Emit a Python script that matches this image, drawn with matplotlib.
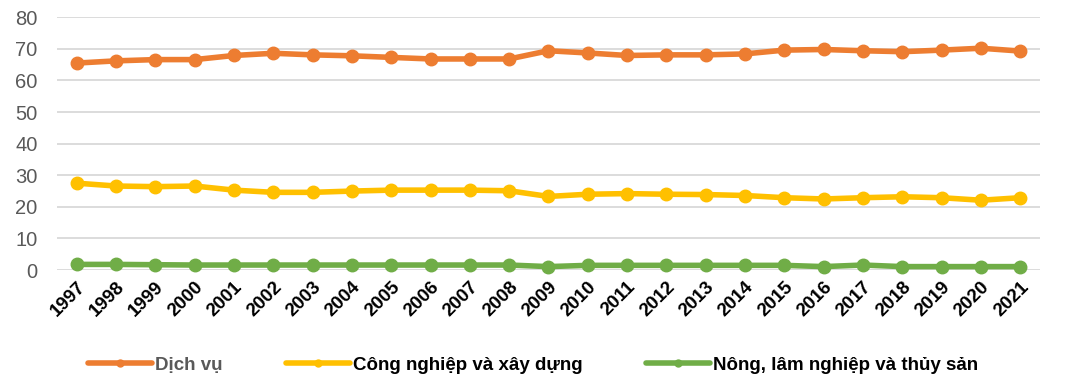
import matplotlib
matplotlib.use("Agg")
import matplotlib.pyplot as plt

years = [str(y) for y in range(1997, 2022)]

dich_vu = [65.5, 66.2, 66.6, 66.6, 67.9, 68.6, 68.1, 67.8, 67.3, 66.8, 66.8, 66.8, 69.4,
           68.7, 67.9, 68.1, 68.1, 68.4, 69.6, 69.8, 69.4, 69.1, 69.6, 70.2, 69.3]
cong_nghiep = [27.5, 26.6, 26.4, 26.6, 25.3, 24.6, 24.6, 25.0, 25.3, 25.3, 25.3, 25.1, 23.3,
               24.0, 24.2, 24.0, 23.9, 23.6, 22.9, 22.5, 22.9, 23.2, 22.9, 22.1, 22.9]
nong_nghiep = [1.8, 1.8, 1.7, 1.6, 1.6, 1.6, 1.6, 1.6, 1.6, 1.6, 1.6, 1.6, 1.1,
               1.5, 1.5, 1.5, 1.5, 1.5, 1.5, 1.1, 1.6, 1.1, 1.1, 1.1, 1.1]

series = [
    ("Dịch vụ", dich_vu, "#ED7D31"),
    ("Công nghiệp và xây dựng", cong_nghiep, "#FFC000"),
    ("Nông, lâm nghiệp và thủy sản", nong_nghiep, "#70AD47"),
]

plt.rcParams['font.family'] = ['Liberation Sans', 'DejaVu Sans']

fig = plt.figure(figsize=(10.66, 3.92), dpi=100)
ax = fig.add_axes([0.0535, 0.311, 0.922, 0.645])

x = list(range(len(years)))
for name, vals, col in series:
    ax.plot(x, vals, color=col, lw=4, marker="o", ms=9, label=name,
            solid_capstyle="round", clip_on=False)

ax.set_xlim(-0.5, len(years) - 0.5)
ax.set_ylim(0, 80)
ax.set_yticks(range(0, 81, 10))
ax.grid(axis="y", color="#D9D9D9", lw=1.3)
ax.set_axisbelow(True)
for s in ax.spines.values():
    s.set_visible(False)
ax.tick_params(axis="both", length=0)
ax.tick_params(axis="y", labelsize=14.5, labelcolor="#595959", pad=14)
ax.tick_params(axis="x", pad=6)
ax.set_xticks(x)
ax.set_xticklabels(years, rotation=45, ha="right", rotation_mode="anchor",
                   fontsize=13.5, fontweight="bold", color="black")

leg = fig.legend(loc="center", bbox_to_anchor=(0.5, 0.068), ncol=3, frameon=False,
                 handlelength=3.4, columnspacing=3.4, handletextpad=0.15,
                 prop={'weight': 'bold', 'size': 13.5})
for h in leg.get_lines():
    h.set_markersize(5)
for t, c in zip(leg.get_texts(), ["#595959", "black", "black"]):
    t.set_color(c)

fig.savefig("out.png", dpi=100)
